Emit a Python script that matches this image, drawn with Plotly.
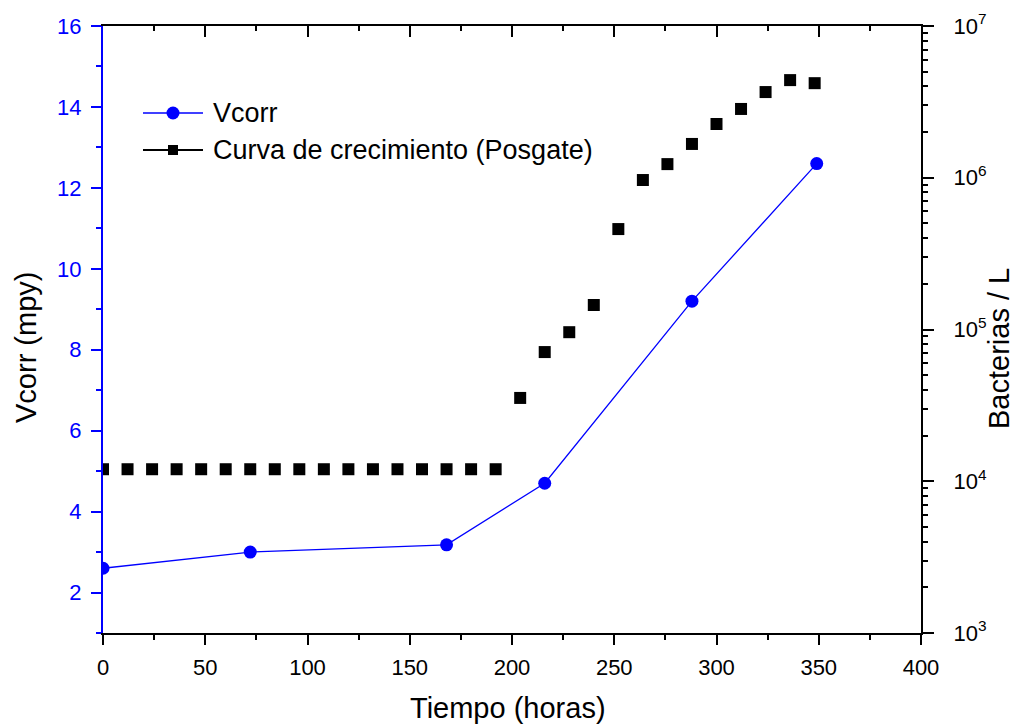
import plotly.graph_objects as go

# ---- data ----
hours_vcorr = [0, 72, 168, 216, 288, 349]
vcorr_mpy = [2.6, 3.0, 3.18, 4.7, 9.2, 12.6]

hours_bact = [0, 12, 24, 36, 48, 60, 72, 84, 96, 108, 120, 132, 144, 156, 168, 180, 192,
              204, 216, 228, 240, 252, 264, 276, 288, 300, 312, 324, 336, 348]
bacteria_per_L = [12000, 12000, 12000, 12000, 12000, 12000, 12000, 12000, 12000, 12000,
                  12000, 12000, 12000, 12000, 12000, 12000, 12000,
                  35400, 71000, 96000, 145000, 459000, 966000, 1230000, 1670000,
                  2260000, 2840000, 3670000, 4400000, 4200000]

x_ticks = [0, 50, 100, 150, 200, 250, 300, 350, 400]
y_left_ticks = [2, 4, 6, 8, 10, 12, 14, 16]
y_left_minor = [1, 3, 5, 7, 9, 11, 13, 15]
y_right_ticks = [1e3, 1e4, 1e5, 1e6, 1e7]
y_right_text = ["10<sup>3</sup>", "10<sup>4</sup>", "10<sup>5</sup>", "10<sup>6</sup>", "10<sup>7</sup>"]
y_right_minor = [m * 10 ** e for e in (3, 4, 5, 6) for m in (2, 3, 4, 5, 6, 7, 8, 9)]

FONT = "Liberation Sans, Arial, sans-serif"
BLUE = "#0000ff"

# ---- layout geometry (pixels) ----
W, H = 1016, 725
L, T = 103, 26
PW, PH = 818, 607
R, B = W - L - PW, H - T - PH


def px(x):
    return (x - L) / PW


def py(y):
    return (T + PH - y) / PH


fig = go.Figure()

fig.add_trace(go.Scatter(
    x=hours_vcorr, y=vcorr_mpy, mode="lines+markers", name="Vcorr",
    line=dict(color=BLUE, width=1.3),
    marker=dict(symbol="circle", size=13, color=BLUE),
    showlegend=False,
))

fig.add_trace(go.Scatter(
    x=hours_bact, y=bacteria_per_L, mode="markers", name="Curva de crecimiento (Posgate)",
    marker=dict(symbol="square", size=12, color="black"),
    xaxis="x2", yaxis="y2", showlegend=False,
))

axis_common = dict(showgrid=False, zeroline=False, showline=True, linewidth=2,
                   tickwidth=2, automargin=False)

fig.update_layout(
    width=W, height=H,
    margin=dict(l=L, r=R, t=T, b=B, pad=0, autoexpand=False),
    paper_bgcolor="white", plot_bgcolor="white",
    font=dict(family=FONT, color="black"),
    xaxis=dict(range=[0, 400], tickmode="array", tickvals=x_ticks, ticks="outside",
               ticklen=10, linecolor="black", tickcolor="black", ticklabelstandoff=4,
               tickfont=dict(family=FONT, size=22, color="black"),
               minor=dict(dtick=25, tick0=0, ticks="outside", ticklen=5,
                          tickwidth=2, tickcolor="black"),
               **axis_common),
    xaxis2=dict(range=[0, 400], overlaying="x", side="top", anchor="y",
                tickmode="array", tickvals=x_ticks, ticks="inside", ticklen=11,
                showticklabels=False, linecolor="black", tickcolor="black",
                minor=dict(dtick=25, tick0=0, ticks="inside", ticklen=5,
                           tickwidth=2, tickcolor="black"),
                **axis_common),
    yaxis=dict(range=[1, 16], tickmode="array", tickvals=y_left_ticks, ticks="outside",
               ticklen=10, linecolor=BLUE, tickcolor=BLUE, ticklabelstandoff=5,
               tickfont=dict(family=FONT, size=22, color=BLUE),
               minor=dict(tickmode="array", tickvals=y_left_minor, ticks="outside",
                          ticklen=5, tickwidth=2, tickcolor=BLUE),
               **axis_common),
    yaxis2=dict(type="log", range=[3, 7], overlaying="y", side="right", anchor="x2",
                tickmode="array", tickvals=y_right_ticks, ticktext=y_right_text,
                ticks="outside", ticklen=11, linecolor="black", tickcolor="black",
                ticklabelstandoff=15,
                tickfont=dict(family=FONT, size=22, color="black"),
                minor=dict(tickmode="array", tickvals=y_right_minor, ticks="outside",
                           ticklen=5, tickwidth=2, tickcolor="black"),
                **axis_common),
)

# axis titles
fig.add_annotation(text="Tiempo (horas)", xref="paper", yref="paper",
                   x=px(508), y=py(708), xanchor="center", yanchor="middle",
                   showarrow=False, font=dict(family=FONT, size=29, color="black"))
fig.add_annotation(text="Vcorr (mpy)", xref="paper", yref="paper",
                   x=px(26), y=py(348), xanchor="center", yanchor="middle",
                   showarrow=False, textangle=-90,
                   font=dict(family=FONT, size=29, color="black"))
fig.add_annotation(text="Bacterias / L", xref="paper", yref="paper",
                   x=px(999), y=py(349), xanchor="center", yanchor="middle",
                   showarrow=False, textangle=-90,
                   font=dict(family=FONT, size=29, color="black"))

# custom legend
rows = [(113, BLUE, 1.3, "circle", "Vcorr"),
        (150, "black", 2, "square", "Curva de crecimiento (Posgate)")]
for ypix, col, lw, sym, label in rows:
    fig.add_shape(type="line", xref="paper", yref="paper",
                  x0=px(143), x1=px(203), y0=py(ypix), y1=py(ypix),
                  line=dict(color=col, width=lw))
    r = 6.5 if sym == "circle" else 5
    fig.add_shape(type="circle" if sym == "circle" else "rect",
                  xref="paper", yref="paper",
                  x0=px(173 - r), x1=px(173 + r), y0=py(ypix + r), y1=py(ypix - r),
                  fillcolor=col, line=dict(color=col, width=0))
    fig.add_annotation(text=label, xref="paper", yref="paper",
                       x=px(211), y=py(ypix), xanchor="left", yanchor="middle",
                       showarrow=False, font=dict(family=FONT, size=27, color="black"))

fig.write_html("out.html", config={"displayModeBar": False},
               post_script="document.body.style.margin='0';document.body.style.overflow='hidden';")
